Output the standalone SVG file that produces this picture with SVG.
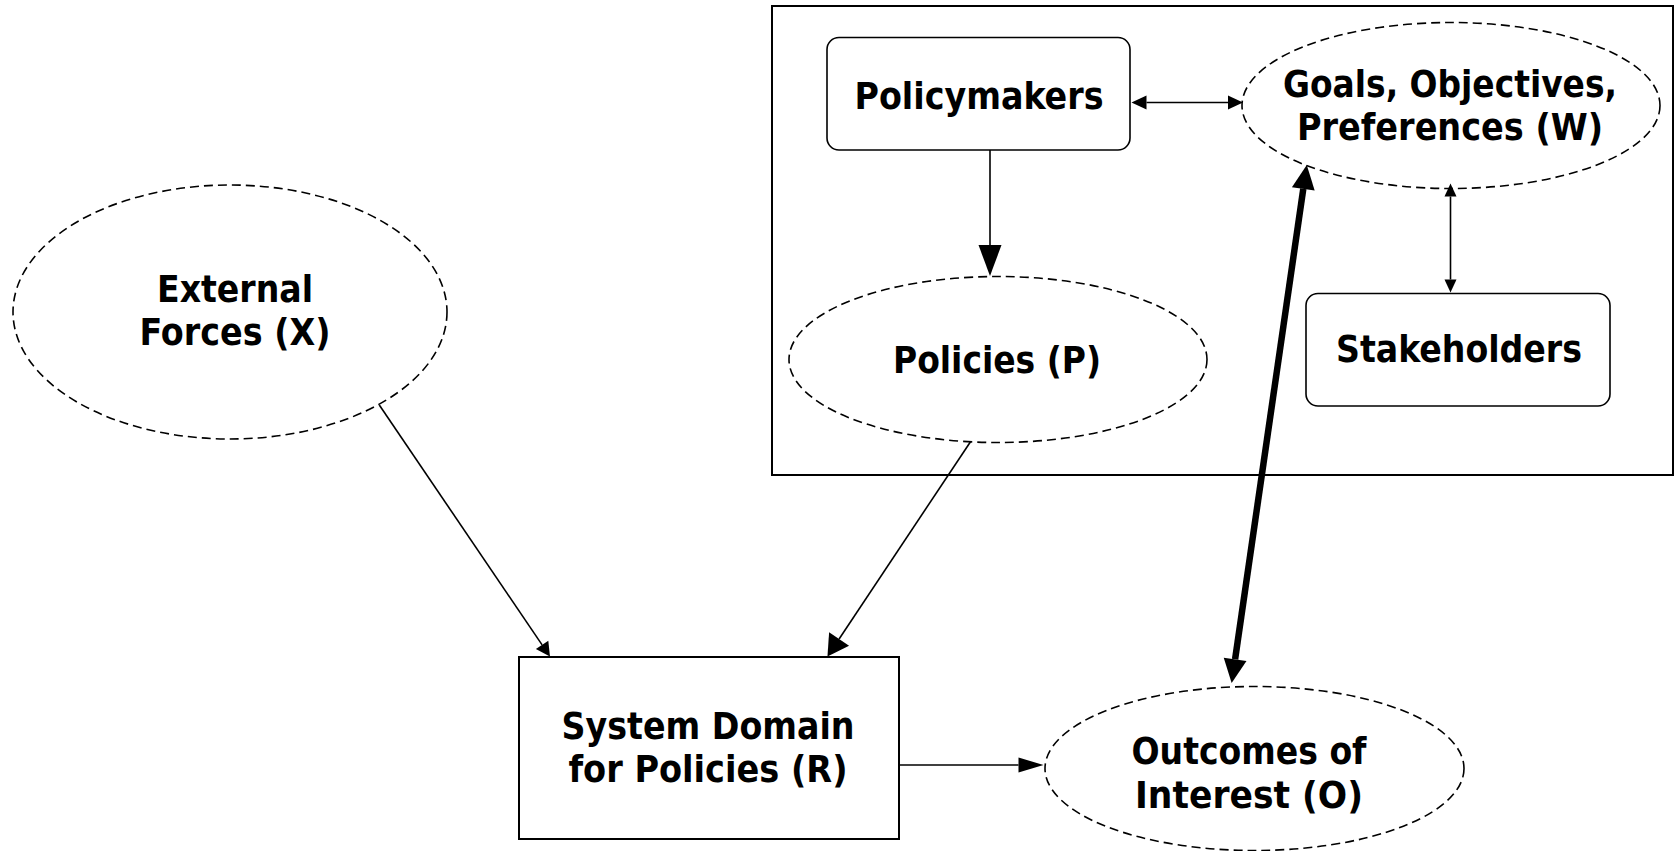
<svg xmlns="http://www.w3.org/2000/svg" width="1675" height="851" viewBox="0 0 1675 851">
<style>
  .box { fill: #fff; stroke: #000; stroke-width: 1.6; }
  .sq { fill: #fff; stroke: #000; stroke-width: 2; }
  .ell { fill: #fff; stroke: #000; stroke-width: 1.6; stroke-dasharray: 9 5; }
  .lbl { font-family: "DejaVu Sans Condensed", "DejaVu Sans", sans-serif; font-weight: bold; font-size: 38px; fill: #000; text-anchor: middle; }
  .con { fill: none; stroke: #000; stroke-width: 1.6; }
  .thick { fill: none; stroke: #000; stroke-width: 6.5; }
</style>
<defs>
  <marker id="aXL" markerUnits="userSpaceOnUse" markerWidth="32" markerHeight="24" refX="0" refY="11.5" orient="auto-start-reverse" overflow="visible"><path d="M0,0 L31,11.5 L0,23 Z" fill="#000"/></marker>
  <marker id="aL" markerUnits="userSpaceOnUse" markerWidth="22" markerHeight="24" refX="0" refY="12" orient="auto-start-reverse" overflow="visible"><path d="M0,0 L21,12 L0,24 Z" fill="#000"/></marker>
  <marker id="aT" markerUnits="userSpaceOnUse" markerWidth="25" markerHeight="23" refX="0" refY="11.5" orient="auto-start-reverse" overflow="visible"><path d="M0,0 L24,11.5 L0,23 Z" fill="#000"/></marker>
  <marker id="aN" markerUnits="userSpaceOnUse" markerWidth="26" markerHeight="16" refX="0" refY="7.5" orient="auto-start-reverse" overflow="visible"><path d="M0,0 L25,7.5 L0,15 Z" fill="#000"/></marker>
  <marker id="aM" markerUnits="userSpaceOnUse" markerWidth="15" markerHeight="16" refX="0" refY="7.5" orient="auto-start-reverse" overflow="visible"><path d="M0,0 L14,7.5 L0,15 Z" fill="#000"/></marker>
  <marker id="aS" markerUnits="userSpaceOnUse" markerWidth="16" markerHeight="14" refX="0" refY="7" orient="auto-start-reverse" overflow="visible"><path d="M0,0 L15,7 L0,14 Z" fill="#000"/></marker>
  <marker id="aXS" markerUnits="userSpaceOnUse" markerWidth="14" markerHeight="12" refX="0" refY="6" orient="auto-start-reverse" overflow="visible"><path d="M0,0 L13,6 L0,12 Z" fill="#000"/></marker>
</defs>
<rect id="container" x="772" y="6" width="901" height="469" fill="none" stroke="#000" stroke-width="2"/>
<g id="policymakers">
  <rect class="box" x="827" y="37.5" width="303" height="112.5" rx="12"/>
  <text class="lbl" x="979" y="109" textLength="249" lengthAdjust="spacingAndGlyphs">Policymakers</text>
</g>
<g id="goals">
  <ellipse class="ell" cx="1451" cy="105.5" rx="209" ry="83"/>
  <text class="lbl" x="1450" y="97" textLength="334" lengthAdjust="spacingAndGlyphs">Goals, Objectives,</text>
  <text class="lbl" x="1450" y="140" textLength="306" lengthAdjust="spacingAndGlyphs">Preferences (W)</text>
</g>
<g id="policies">
  <ellipse class="ell" cx="998" cy="359.5" rx="209" ry="83"/>
  <text class="lbl" x="997" y="373" textLength="208" lengthAdjust="spacingAndGlyphs">Policies (P)</text>
</g>
<g id="stakeholders">
  <rect class="box" x="1306" y="293.5" width="304" height="112.5" rx="12"/>
  <text class="lbl" x="1459" y="362" textLength="246" lengthAdjust="spacingAndGlyphs">Stakeholders</text>
</g>
<g id="external">
  <ellipse class="ell" cx="230" cy="312" rx="217" ry="127"/>
  <text class="lbl" x="235" y="302" textLength="156" lengthAdjust="spacingAndGlyphs">External</text>
  <text class="lbl" x="235" y="345" textLength="191" lengthAdjust="spacingAndGlyphs">Forces (X)</text>
</g>
<g id="system">
  <rect class="sq" x="519" y="657" width="380" height="182"/>
  <text class="lbl" x="708" y="739" textLength="293" lengthAdjust="spacingAndGlyphs">System Domain</text>
  <text class="lbl" x="708" y="782" textLength="279" lengthAdjust="spacingAndGlyphs">for Policies (R)</text>
</g>
<g id="outcomes">
  <ellipse class="ell" cx="1254.5" cy="768.5" rx="209.5" ry="82"/>
  <text class="lbl" x="1249" y="764" textLength="235" lengthAdjust="spacingAndGlyphs">Outcomes of</text>
  <text class="lbl" x="1249" y="808" textLength="228" lengthAdjust="spacingAndGlyphs">Interest (O)</text>
</g>
<g id="connectors">
  <path class="con" d="M990,150 L990,245" stroke-width="2" marker-end="url(#aXL)"/>
  <path class="con" d="M1146.5,102.5 L1228,102.5" marker-start="url(#aS)" marker-end="url(#aS)"/>
  <path class="con" d="M1450.5,196.5 L1450.5,279.5" marker-start="url(#aXS)" marker-end="url(#aXS)"/>
  <path class="thick" d="M1303.3,188.8 L1235.1,659.3" marker-start="url(#aT)" marker-end="url(#aT)"/>
  <path class="con" d="M379.3,405 L542.1,644.9" marker-end="url(#aM)"/>
  <path class="con" d="M970.5,441.7 L839.1,639" marker-end="url(#aL)"/>
  <path class="con" d="M899,765 L1018.5,765" stroke-width="2" marker-end="url(#aN)"/>
</g>
</svg>
